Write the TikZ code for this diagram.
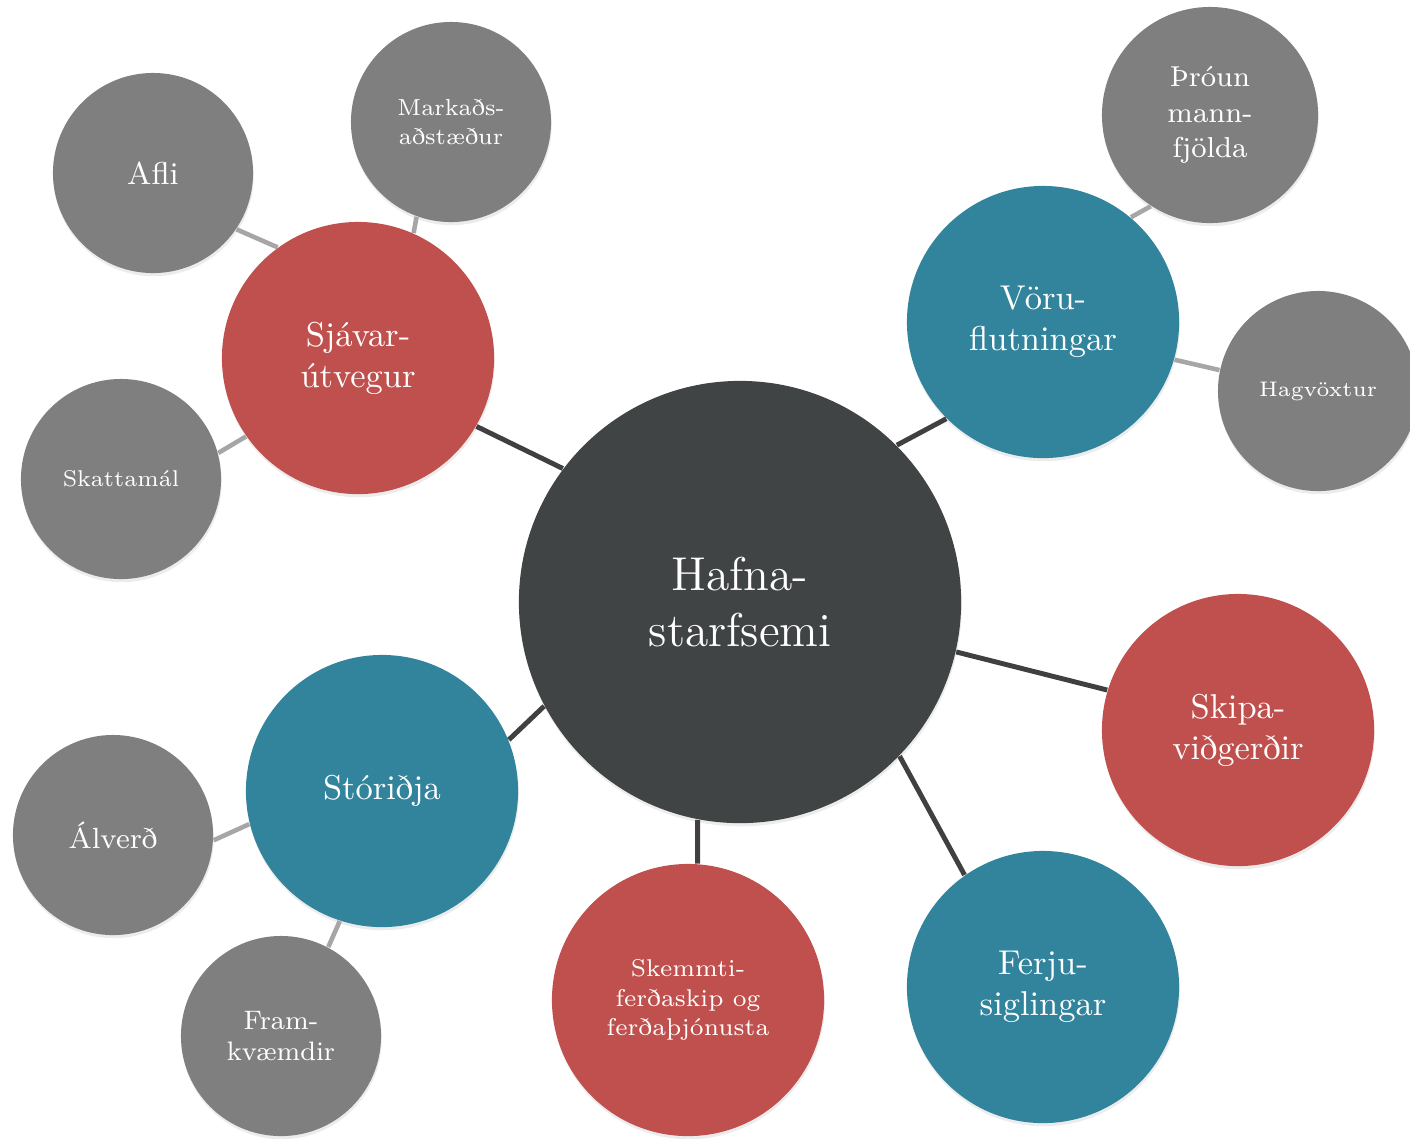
\documentclass[tikz,border=0pt]{standalone}
\usepackage{fontspec}
\usetikzlibrary{shadows}

\definecolor{hubgray}{RGB}{64,68,69}
\definecolor{seared}{RGB}{192,80,77}
\definecolor{seateal}{RGB}{49,132,155}
\definecolor{leafgray}{RGB}{127,127,127}
\definecolor{linedark}{RGB}{64,64,64}
\definecolor{linelight}{RGB}{166,166,166}

\tikzstyle{bubble} = [circle, inner sep=0pt, align=center, text=white, drop shadow={opacity=0.15, shadow xshift=0.2pt, shadow yshift=-0.9pt}]
\tikzstyle{hub} = [bubble, fill=hubgray, minimum size=4.42cm, font=\fontsize{13.5}{16.2}\selectfont]
\tikzstyle{topic} = [bubble, minimum size=2.72cm, font=\fontsize{9.8}{11.7}\selectfont]
\tikzstyle{leaf} = [bubble, fill=leafgray, minimum size=2cm]
\tikzstyle{spoke} = [draw=linedark, line width=1.4pt]
\tikzstyle{twig} = [draw=linelight, line width=1.3pt]

\begin{document}
\begin{tikzpicture}[x=0.01cm, y=-0.01cm]
\useasboundingbox (0,0) rectangle (1410,1138);
% hub
\node [hub] (hafna) at (740,602) {Hafna-\\starfsemi};
% topics
\node [topic, fill=seared] (sjavar) at (358,358) {Sjávar-\\útvegur};
\node [topic, fill=seateal] (voru) at (1043,322) {Vöru-\\flutningar};
\node [topic, fill=seared] (skipa) at (1238,730) {Skipa-\\viðgerðir};
\node [topic, fill=seateal] (ferju) at (1043,987) {Ferju-\\siglingar};
\node [topic, fill=seared, font=\fontsize{6.9}{8.4}\selectfont] (skemmti) at (688,1000) {Skemmti-\\ferðaskip og\\ferðaþjónusta};
\node [topic, fill=seateal] (storidja) at (382,791) {Stóriðja};
% leaves
\node [leaf, font=\fontsize{9}{10.5}\selectfont] (afli) at (153,173) {Afli};
\node [leaf, font=\fontsize{6.6}{8.5}\selectfont] (markads) at (451,122) {Markaðs-\\aðstæður};
\node [leaf, font=\fontsize{6.5}{8}\selectfont] (skatt) at (121,479) {Skattamál};
\node [leaf, minimum size=2.16cm, font=\fontsize{8.2}{10}\selectfont] (throun) at (1210,115) {Þróun\\mann-\\fjölda};
\node [leaf, font=\fontsize{6}{8}\selectfont] (hagvoxtur) at (1318,391) {Hagvöxtur};
\node [leaf, font=\fontsize{8.3}{10}\selectfont] (alverd) at (113,835) {Álverð};
\node [leaf, font=\fontsize{7.6}{8.8}\selectfont] (fram) at (281,1036) {Fram-\\kvæmdir};
% spokes
\draw [spoke] (sjavar.-30.5) -- (hafna.143.5);
\draw [spoke] (voru.225) -- (hafna.45);
\draw [spoke] (skipa.163.8) -- (hafna.-13.5);
\draw [spoke] (ferju.125.3) -- (hafna.-44.5);
\draw [spoke] (skemmti.86) -- (hafna.259.6);
\draw [spoke] (storidja.22.8) -- (hafna.208.9);
% twigs
\draw [twig] (afli.-34.8) -- (sjavar.126.5);
\draw [twig] (markads.250.5) -- (sjavar.66.3);
\draw [twig] (skatt.15.6) -- (sjavar.215);
\draw [twig] (throun.237) -- (voru.50.4);
\draw [twig] (hagvoxtur.168) -- (voru.-16.9);
\draw [twig] (alverd.-3) -- (storidja.194.8);
\draw [twig] (fram.62.4) -- (storidja.252);
\end{tikzpicture}
\end{document}
